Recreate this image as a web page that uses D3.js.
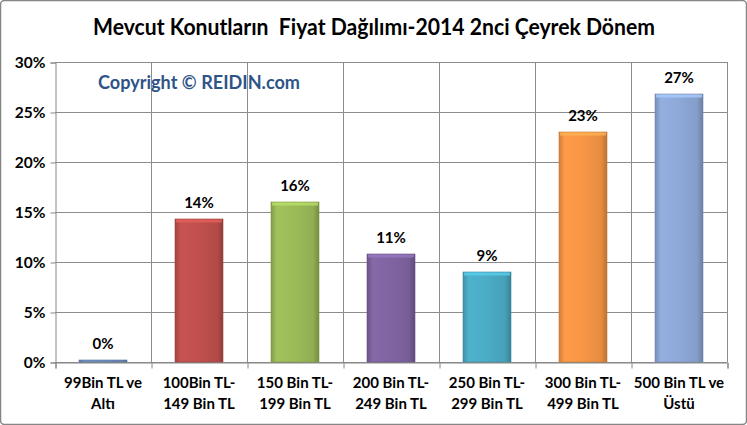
<!DOCTYPE html>
<html><head><meta charset="utf-8">
<script src="https://cdn.jsdelivr.net/npm/d3@7"></script>
<style>body{margin:0;background:#fff}svg{display:block}</style>
</head><body>
<script>
const categories = [["99Bin TL ve","Altı"],["100Bin TL-","149 Bin TL"],["150 Bin TL-","199 Bin TL"],["200 Bin TL-","249 Bin TL"],["250 Bin TL-","299 Bin TL"],["300 Bin TL-","499 Bin TL"],["500 Bin TL ve","Üstü"]];
const values = [0.2, 14.3, 16.0, 10.8, 9.0, 23.0, 26.8];
const valueLabels = ["0%","14%","16%","11%","9%","23%","27%"];
const colors = ["#6F8FBF","#C0504D","#9BBB59","#8064A2","#4BACC6","#F79646","#8EA9D8"];
const yTicks = [0,5,10,15,20,25,30];
const title = "Mevcut Konutların  Fiyat Dağılımı-2014 2nci Çeyrek Dönem";
const copyright = "Copyright © REIDIN.com";

(function(){
const W=747,H=425;
const svg=d3.select("body").append("svg").attr("width",W).attr("height",H);
const font="Lato, 'Open Sans', sans-serif";
svg.append("rect").attr("x",0.5).attr("y",0.5).attr("width",W-1).attr("height",H-1).attr("rx",4)
  .attr("fill","#fff").attr("stroke","#868686").attr("stroke-width",1.5);

const pL=55,pR=727,pT=62,pB=362;
const x=d3.scaleBand().domain(d3.range(categories.length)).range([pL,pR]).paddingInner(0.5).paddingOuter(0.25);
const xb=d3.scaleLinear().domain([0,categories.length]).range([pL,pR]);
const y=d3.scaleLinear().domain([0,30]).range([pB,pT]);

const defs=svg.append("defs");
colors.forEach((c,i)=>{
  const g=defs.append("linearGradient").attr("id","g"+i).attr("x1","0").attr("x2","1").attr("y1","0").attr("y2","0");
  const base=d3.color(c);
  g.append("stop").attr("offset","0").attr("stop-color",base.darker(0.5));
  g.append("stop").attr("offset","0.12").attr("stop-color",base.brighter(0.1));
  g.append("stop").attr("offset","0.5").attr("stop-color",base);
  g.append("stop").attr("offset","0.88").attr("stop-color",base.darker(0.2));
  g.append("stop").attr("offset","1").attr("stop-color",base.darker(0.8));
});

const grid=svg.append("g").attr("stroke","#8c8c8c").attr("stroke-width",1);
yTicks.forEach(t=>grid.append("line").attr("x1",pL).attr("x2",pR).attr("y1",Math.round(y(t))+0.5).attr("y2",Math.round(y(t))+0.5));
d3.range(1,categories.length+1).forEach(i=>grid.append("line").attr("x1",Math.round(xb(i))+0.5).attr("x2",Math.round(xb(i))+0.5).attr("y1",pT).attr("y2",pB));

const yAxis=svg.append("g").attr("transform",`translate(${pL+0.5},0.5)`)
  .call(d3.axisLeft(y).tickValues(yTicks).tickSize(5).tickPadding(5).tickFormat(d=>d+"%"));
yAxis.select(".domain").attr("stroke","#868686");
yAxis.selectAll(".tick line").attr("stroke","#868686");
yAxis.selectAll("text").attr("font-family",font).attr("font-weight","bold").attr("font-size",15.5).attr("fill","#000");

const xAxis=svg.append("g").attr("transform",`translate(0.5,${pB+0.5})`)
  .call(d3.axisBottom(xb).tickValues(d3.range(0,categories.length+1)).tickSize(6).tickFormat(""));
xAxis.select(".domain").attr("stroke","#868686");
xAxis.selectAll(".tick line").attr("stroke","#868686");

categories.forEach((c,i)=>{
  const cx=x(i)+x.bandwidth()/2;
  const t=svg.append("text").attr("text-anchor","middle")
    .attr("font-family",font).attr("font-weight","bold").attr("font-size",15).attr("fill","#000");
  t.append("tspan").attr("x",cx).attr("y",388).text(c[0]);
  t.append("tspan").attr("x",cx).attr("y",409).text(c[1]);
});

svg.append("g").selectAll("rect").data(values).join("rect")
  .attr("x",(d,i)=>x(i)).attr("width",x.bandwidth())
  .attr("y",d=>y(d)).attr("height",d=>y(0)-y(d))
  .attr("fill",(d,i)=>`url(#g${i})`)
  .attr("stroke",(d,i)=>d3.color(colors[i]).darker(0.6)).attr("stroke-width",0.6);
svg.append("g").selectAll("rect").data(values).join("rect")
  .attr("x",(d,i)=>x(i)+1).attr("width",x.bandwidth()-2)
  .attr("y",d=>y(d)+0.5).attr("height",d=>(y(0)-y(d)>5?3:0))
  .attr("fill",(d,i)=>d3.color(colors[i]).brighter(0.5)).attr("opacity",0.8);

svg.append("g").selectAll("text").data(values).join("text")
  .attr("x",(d,i)=>x(i)+x.bandwidth()/2).attr("y",d=>y(d)-11)
  .attr("text-anchor","middle").attr("font-family",font).attr("font-weight","bold").attr("font-size",15).attr("fill","#000")
  .text((d,i)=>valueLabels[i]);

svg.append("text").attr("x",374).attr("y",35).attr("text-anchor","middle")
  .attr("font-family",font).attr("font-weight","bold").attr("font-size",22)
  .attr("textLength",562).attr("lengthAdjust","spacingAndGlyphs")
  .attr("fill","#000").attr("style","white-space:pre").text(title);
svg.append("text").attr("x",98).attr("y",89).attr("font-family",font).attr("font-weight","bold")
  .attr("font-size",18).attr("textLength",202).attr("lengthAdjust","spacingAndGlyphs")
  .attr("fill","#2F5487").text(copyright);
})();
</script>
</body></html>
